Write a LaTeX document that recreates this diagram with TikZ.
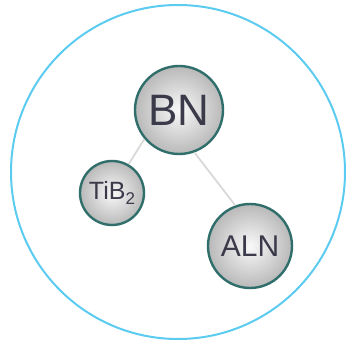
\documentclass[tikz,border=0pt]{standalone}
\usepackage{fontspec}
\setmainfont{Liberation Sans}
\definecolor{ring}{HTML}{5CCBF0}
\definecolor{edge}{HTML}{2F6E6A}
\definecolor{txt}{HTML}{3A3A4A}
\begin{document}
\begin{tikzpicture}[x=1pt,y=-1pt,
  ball/.style={circle,draw=edge,line width=2.4pt,inner sep=0pt,
    inner color=white!95!gray,outer color=gray!55,text=txt},
  link/.style={draw=gray!30,line width=1.8pt}]
\useasboundingbox (0,0) rectangle (356,347);
\node[circle,draw=ring,line width=2pt,minimum size=334pt] (outer) at (178,172) {};
\node[ball,minimum size=88pt,font=\fontsize{44}{44}\selectfont] (bn) at (179,110) {BN};
\node[ball,minimum size=64pt,font=\fontsize{25}{25}\selectfont] (tib) at (112,193) {TiB\raisebox{-0.35ex}{\fontsize{17}{17}\selectfont 2}};
\node[ball,minimum size=84pt,font=\fontsize{30}{30}\selectfont] (aln) at (250,246) {ALN};
\draw[link] (bn.-140) -- (tib.60);
\draw[link] (bn.-70) -- (aln.110);
\end{tikzpicture}
\end{document}
